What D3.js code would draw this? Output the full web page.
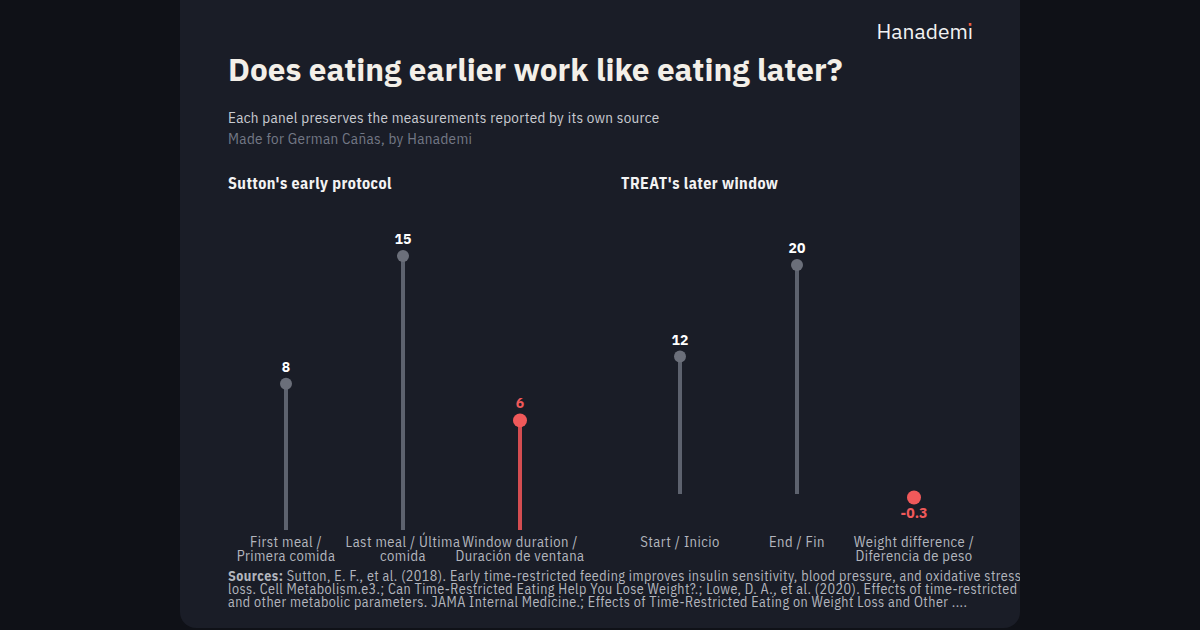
<!DOCTYPE html>
<html><head><meta charset="utf-8">
<script src="https://cdn.jsdelivr.net/npm/d3@7"></script>
<style>
html,body{margin:0;padding:0;background:#0f1117;}
svg{display:block;}
</style></head>
<body>
<svg id="c" width="1200" height="630"></svg>
<script>
const leftCategories = ["First meal / Primera comida", "Last meal / Última comida", "Window duration / Duración de ventana"];
const leftValues = [8, 15, 6];
const rightCategories = ["Start / Inicio", "End / Fin", "Weight difference / Diferencia de peso"];
const rightValues = [12, 20, -0.3];
const leftLabels = [["First meal /","Primera comida"],["Last meal / Última","comida"],["Window duration /","Duración de ventana"]];
const rightLabels = [["Start / Inicio"],["End / Fin"],["Weight difference /","Diferencia de peso"]];
const highlightIndex = 2;
const title = "Does eating earlier work like eating later?";
const subtitle = "Each panel preserves the measurements reported by its own source";
const credit = "Made for German Cañas, by Hanademi";
const panelTitles = ["Sutton's early protocol", "TREAT's later window"];
const sourcesLines = [
  "Sutton, E. F., et al. (2018). Early time-restricted feeding improves insulin sensitivity, blood pressure, and oxidative stress even without weight",
  "loss. Cell Metabolism.e3.; Can Time-Restricted Eating Help You Lose Weight?.; Lowe, D. A., et al. (2020). Effects of time-restricted eating on weight loss",
  "and other metabolic parameters. JAMA Internal Medicine.; Effects of Time-Restricted Eating on Weight Loss and Other ...."
];

const svg = d3.select("#c");
const FONT = "'IBM Plex Sans', Inter, Roboto, 'Noto Sans', sans-serif";
const NARROW = "'IBM Plex Sans Condensed', 'Liberation Sans Narrow', 'Roboto Condensed', Roboto, sans-serif";

svg.append("defs").append("clipPath").attr("id","card").append("rect")
  .attr("x",180).attr("y",0).attr("width",840).attr("height",628).attr("rx",16);
svg.append("rect").attr("x",180).attr("y",-20).attr("width",840).attr("height",648).attr("rx",16).attr("fill","#1a1d27");

const g = svg.append("g").attr("clip-path","url(#card)");

// logo with red dot on the i
const logo = g.append("text").attr("x",973).attr("y",39).attr("text-anchor","end")
  .attr("font-family",FONT).attr("font-size",21).attr("fill","#f2f2f2");
logo.append("tspan").text("Hanadem");
logo.append("tspan").text("\u0131");
g.append("rect").attr("x",968.8).attr("y",23).attr("width",2.6).attr("height",2.8).attr("fill","#ef5a3c");

g.append("text").attr("x",228).attr("y",81).attr("font-family",FONT).attr("font-weight",700)
  .attr("font-size",31.5).attr("fill","#f3efe8").text(title);
g.append("text").attr("x",228).attr("y",123).attr("font-family",NARROW)
  .attr("font-size",15).attr("letter-spacing",0.3).attr("fill","#c9cbd1").text(subtitle);
g.append("text").attr("x",228).attr("y",144).attr("font-family",NARROW)
  .attr("font-size",15).attr("letter-spacing",0.35).attr("fill","#737885").text(credit);

const GREY_STEM = "#5d626e", GREY_DOT = "#6b6f7a", RED_STEM = "#d44d51", RED_DOT = "#f0595a";

function panel(px, titleText, cats, vals, labels, y, x) {
  g.append("text").attr("x",px).attr("y",189).attr("font-family",NARROW).attr("font-weight",700)
    .attr("font-size",16).attr("letter-spacing",0.45).attr("fill","#f3f3f3").text(titleText);
  const pg = g.append("g");
  cats.forEach((c,i)=>{
    const v = vals[i], cx = x(c), red = i===highlightIndex;
    if (v > 0) {
      pg.append("line").attr("x1",cx).attr("x2",cx).attr("y1",y(0)).attr("y2",y(v))
        .attr("stroke", red?RED_STEM:GREY_STEM).attr("stroke-width",4);
    }
    pg.append("circle").attr("cx",cx).attr("cy",y(v)).attr("r", red?7:6)
      .attr("fill", red?RED_DOT:GREY_DOT);
    pg.append("text").attr("x",cx).attr("y", v>=0 ? y(v)-12 : y(v)+21)
      .attr("text-anchor","middle").attr("font-family",FONT).attr("font-weight",700)
      .attr("font-size",14).attr("fill", red?RED_DOT:"#ffffff").text(v);
    const t = pg.append("text").attr("text-anchor","middle").attr("font-family",NARROW)
      .attr("font-size",14.5).attr("letter-spacing",0.45).attr("fill","#b3b6be");
    labels[i].forEach((ln,j)=>{
      t.append("tspan").attr("x",cx).attr("y",547+j*13.5).text(ln);
    });
  });
}

const xL = d3.scalePoint().domain(leftCategories).range([286,520]);
const yL = d3.scaleLinear().domain([0,15]).range([530,256]);
panel(228, panelTitles[0], leftCategories, leftValues, leftLabels, yL, xL);

const xR = d3.scalePoint().domain(rightCategories).range([680,914]);
const yR = d3.scaleLinear().domain([0,20]).range([494,265]);
panel(621, panelTitles[1], rightCategories, rightValues, rightLabels, yR, xR);

// sources
const src = g.append("text").attr("font-family",NARROW).attr("font-size",14)
  .attr("letter-spacing",0.45).attr("fill","#b3b6be");
sourcesLines.forEach((ln,i)=>{
  const ts = src.append("tspan").attr("x",228).attr("y",581+i*13.2);
  if (i===0) {
    ts.append("tspan").attr("font-weight",700).text("Sources:");
    ts.append("tspan").text(" "+ln);
  } else ts.text(ln);
});
</script>
</body></html>
